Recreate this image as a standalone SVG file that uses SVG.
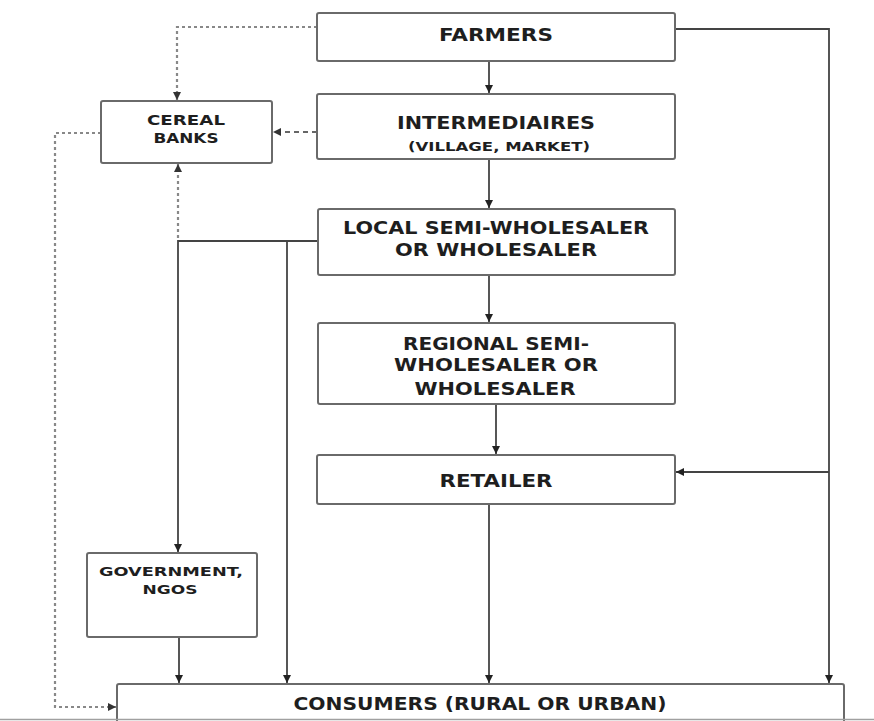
<svg xmlns="http://www.w3.org/2000/svg" width="874" height="721" viewBox="0 0 874 721">
<defs>
<marker id="arr" viewBox="0 0 8 8" refX="8" refY="4" markerWidth="8" markerHeight="8" markerUnits="userSpaceOnUse" orient="auto">
<path d="M0,0 L8,4 L0,8 z" fill="#222"/>
</marker>
<marker id="arrg" viewBox="0 0 8 8" refX="8" refY="4" markerWidth="8" markerHeight="8" markerUnits="userSpaceOnUse" orient="auto">
<path d="M0,0 L8,4 L0,8 z" fill="#333"/>
</marker>
</defs>
<style>
.box{fill:#fff;stroke:#6a6a6a;stroke-width:2}
.t{font-family:"DejaVu Sans","Liberation Sans",sans-serif;font-weight:bold;fill:#1e1e1e;text-anchor:middle}
.big{font-size:18px}
.mid{font-size:14px}
.sm{font-size:13px}
.xs{font-size:12.5px}
.c{fill:none;stroke:#444;stroke-width:1.8}
.dot{fill:none;stroke:#888;stroke-width:2.2;stroke-dasharray:3 3}
.dash{fill:none;stroke:#666;stroke-width:2;stroke-dasharray:5 4}
</style>
<rect width="874" height="721" fill="#fff"/>
<g id="connectors">
<path class="c" d="M489,61 V93" marker-end="url(#arr)"/>
<path class="c" d="M489,159 V208" marker-end="url(#arr)"/>
<path class="c" d="M489,275 V322" marker-end="url(#arr)"/>
<path class="c" d="M496,404 V454" marker-end="url(#arr)"/>
<path class="c" d="M489,504 V683" marker-end="url(#arr)"/>
<path class="c" d="M675,29 H829 V683" marker-end="url(#arr)"/>
<path class="c" d="M829,472 H676" marker-end="url(#arr)"/>
<path class="c" d="M318,241 H178 V552" marker-end="url(#arr)"/>
<path class="c" d="M287,241 V683" marker-end="url(#arr)"/>
<path class="c" d="M179,637 V683" marker-end="url(#arr)"/>
<path class="dot" d="M317,27 H177 V100" marker-end="url(#arrg)"/>
<path class="dash" d="M317,132 H273" marker-end="url(#arrg)"/>
<path class="dot" d="M178,238 V164" marker-end="url(#arrg)"/>
<path class="dot" d="M101,133 H55 V707 H116" marker-end="url(#arrg)"/>
</g>
<g id="farmers">
<rect class="box" x="317" y="13" width="358" height="48" rx="2"/>
<text class="t big" x="496" y="41" textLength="114" lengthAdjust="spacingAndGlyphs">FARMERS</text>
</g>
<g id="intermediaires">
<rect class="box" x="317" y="94" width="358" height="65" rx="2"/>
<text class="t big" x="496" y="129" textLength="198" lengthAdjust="spacingAndGlyphs">INTERMEDIAIRES</text>
<text class="t sm" x="499" y="151" textLength="182" lengthAdjust="spacingAndGlyphs">(VILLAGE, MARKET)</text>
</g>
<g id="cereal-banks">
<rect class="box" x="101" y="101" width="171" height="62" rx="2"/>
<text class="t mid" x="186" y="125" textLength="78" lengthAdjust="spacingAndGlyphs">CEREAL</text>
<text class="t mid" x="186" y="143" textLength="65" lengthAdjust="spacingAndGlyphs">BANKS</text>
</g>
<g id="local">
<rect class="box" x="318" y="209" width="357" height="66" rx="2"/>
<text class="t big" x="496" y="234" textLength="306" lengthAdjust="spacingAndGlyphs">LOCAL SEMI-WHOLESALER</text>
<text class="t big" x="496" y="256" textLength="202" lengthAdjust="spacingAndGlyphs">OR WHOLESALER</text>
</g>
<g id="regional">
<rect class="box" x="318" y="323" width="357" height="81" rx="2"/>
<text class="t big" x="496" y="350" textLength="186" lengthAdjust="spacingAndGlyphs">REGIONAL SEMI-</text>
<text class="t big" x="496" y="371" textLength="204" lengthAdjust="spacingAndGlyphs">WHOLESALER OR</text>
<text class="t big" x="495" y="395" textLength="161" lengthAdjust="spacingAndGlyphs">WHOLESALER</text>
</g>
<g id="retailer">
<rect class="box" x="317" y="455" width="358" height="49" rx="2"/>
<text class="t big" x="496" y="487" textLength="113" lengthAdjust="spacingAndGlyphs">RETAILER</text>
</g>
<g id="government">
<rect class="box" x="87" y="553" width="170" height="84" rx="2"/>
<text class="t xs" x="171" y="576" textLength="144" lengthAdjust="spacingAndGlyphs">GOVERNMENT,</text>
<text class="t xs" x="170" y="594" textLength="55" lengthAdjust="spacingAndGlyphs">NGOS</text>
</g>
<g id="consumers">
<rect class="box" x="117" y="684" width="727" height="50" rx="2"/>
<text class="t big" x="480" y="710" textLength="373" lengthAdjust="spacingAndGlyphs">CONSUMERS (RURAL OR URBAN)</text>
</g>
<line x1="0" y1="719.5" x2="874" y2="719.5" stroke="#a0a0a0" stroke-width="1.5"/>
</svg>
